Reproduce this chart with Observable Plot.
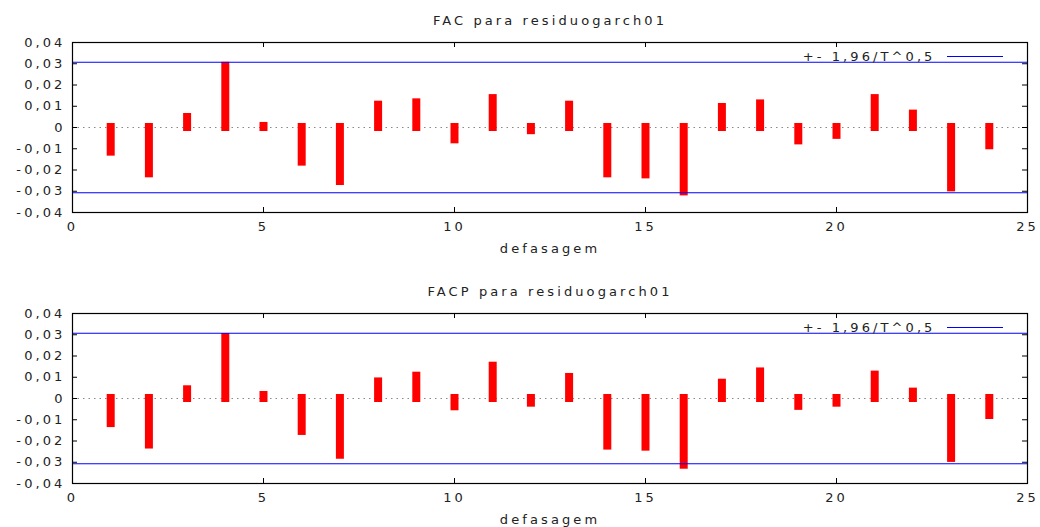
<!DOCTYPE html>
<html>
<head>
<meta charset="utf-8">
<script src="https://cdn.jsdelivr.net/npm/d3@7"></script>
<script src="https://cdn.jsdelivr.net/npm/@observablehq/plot@0.6"></script>
<style>
  html, body { margin: 0; padding: 0; background: #fff; }
  #chart svg { display: block; }
</style>
</head>
<body>
<div id="chart"></div>
<script>
// Lags (defasagem)
const lags = [1,2,3,4,5,6,7,8,9,10,11,12,13,14,15,16,17,18,19,20,21,22,23,24];
// FAC values (autocorrelation)
const facValues = [-0.0116,-0.0218,0.0047,0.0288,0.0005,-0.0163,-0.0254,0.0105,0.0116,-0.0058,0.0136,-0.0015,
                   0.0105,-0.0218,-0.0223,-0.0303,0.0094,0.0111,-0.0063,-0.0037,0.0136,0.0063,-0.0284,-0.0086];
// FACP values (partial autocorrelation)
const facpValues = [-0.0118,-0.0219,0.0041,0.0287,0.0014,-0.0155,-0.0267,0.0078,0.0105,-0.0039,0.0152,-0.0022,
                    0.0099,-0.0224,-0.0229,-0.0314,0.0072,0.0125,-0.0037,-0.0022,0.0110,0.0030,-0.0282,-0.0080];
// Confidence band +- 1,96/T^0,5
const band = 0.0307;
const xTicks = [0,5,10,15,20,25];
const yTicks = [-0.04,-0.03,-0.02,-0.01,0,0.01,0.02,0.03,0.04];
const titles = ["FAC para residuogarch01", "FACP para residuogarch01"];
const xLabel = "defasagem";
const legendLabel = "+- 1,96/T^0,5";

const fmtY = d => d === 0 ? "0" : d.toFixed(2).replace(".", ",");

function panel(title, values, opts) {
  const data = lags.map((l, i) => ({lag: l, v: values[i]}));
  const W = 1040, mL = 72, mR = 13;
  const innerW = W - mL - mR;
  const innerH = opts.height - opts.marginTop - opts.marginBottom;
  const font = {fontFamily: "DejaVu Sans", fontSize: 13};
  return Plot.plot({
    width: W,
    height: opts.height,
    marginLeft: mL,
    marginRight: mR,
    marginTop: opts.marginTop,
    marginBottom: opts.marginBottom,
    style: {fontFamily: "DejaVu Sans", fontSize: "13px", color: "#222", letterSpacing: "3.1px", background: "#fff"},
    x: {domain: [0, 25], label: null},
    y: {domain: [-0.04, 0.04], label: null},
    marks: [
      Plot.ruleY([0], {stroke: "#888", strokeDasharray: "1.5,4"}),
      Plot.ruleX(data, {x: "lag", y1: 0, y2: "v", stroke: "#ff0000", strokeWidth: 8, strokeLinecap: "square"}),
      Plot.ruleY([-band, band], {stroke: "#0000ff", strokeWidth: 1.2}),
      // inward ticks
      Plot.ruleX(xTicks, {stroke: "#000", insetTop: innerH - 5}),
      Plot.ruleX(xTicks, {stroke: "#000", insetBottom: innerH - 5}),
      Plot.ruleY(yTicks, {stroke: "#000", insetRight: innerW - 5}),
      Plot.ruleY(yTicks, {stroke: "#000", insetLeft: innerW - 5}),
      Plot.frame({stroke: "#000", strokeWidth: 1.2}),
      Plot.axisX(xTicks, {tickSize: 0, tickPadding: 9, ...font, fill: "#222", label: null}),
      Plot.axisY(yTicks, {tickSize: 0, tickPadding: 7, tickFormat: fmtY, ...font, fill: "#222", label: null}),
      Plot.text([title], {frameAnchor: "top", lineAnchor: "middle", dy: -22, ...font, fill: "#222"}),
      Plot.text([xLabel], {frameAnchor: "bottom", lineAnchor: "middle", dy: 36, ...font, fill: "#222"}),
      // legend
      Plot.text([legendLabel], {frameAnchor: "top-right", lineAnchor: "middle", dx: -92, dy: 14, textAnchor: "end", ...font, fill: "#222"}),
      Plot.ruleY([0.04], {dy: 14, insetLeft: 875, insetRight: 24, stroke: "#0000ff", strokeWidth: 1.2})
    ]
  });
}

const chart = document.getElementById("chart");
chart.appendChild(panel(titles[0], facValues, {height: 270, marginTop: 42, marginBottom: 58}));
chart.appendChild(panel(titles[1], facpValues, {height: 257, marginTop: 43, marginBottom: 44}));
</script>
</body>
</html>
